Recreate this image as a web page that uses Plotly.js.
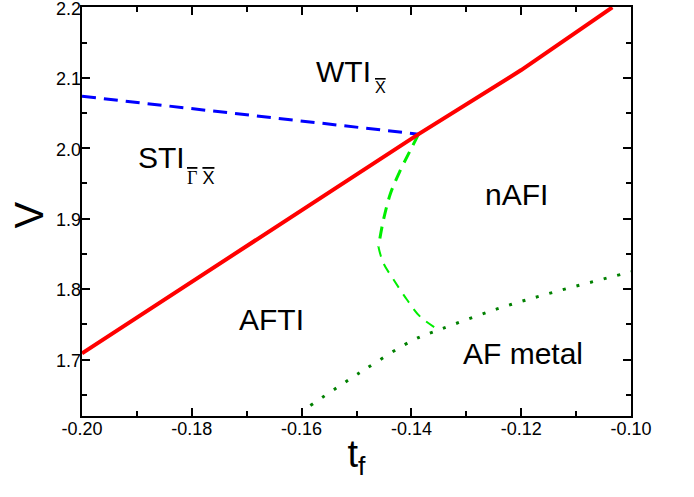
<!DOCTYPE html>
<html>
<head>
<meta charset="utf-8">
<script src="https://cdn.plot.ly/plotly-3.0.1.min.js"></script>
<style>
  html, body { margin: 0; padding: 0; background: #fff; }
  #plot { width: 694px; height: 497px; }
</style>
</head>
<body>
<div id="plot"></div>
<script>
// Phase boundaries in the (t_f, V) plane
const redX = [-0.2, -0.1387, -0.12, -0.1034];
const redY = [1.709, 2.020, 2.111, 2.2];

const blueX = [-0.2, -0.18, -0.1387];
const blueY = [2.0738, 2.056, 2.020];

const greenUpperX = [-0.1387, -0.1402, -0.142, -0.1438, -0.1451, -0.146];
const greenUpperY = [2.020, 1.997, 1.969, 1.936, 1.898, 1.860];
const greenLowerX = [-0.146, -0.1451, -0.1432, -0.1408, -0.1384, -0.135];
const greenLowerY = [1.860, 1.837, 1.813, 1.785, 1.761, 1.742];

const metalX = [-0.1584, -0.1493, -0.1396, -0.1347, -0.1244, -0.1135, -0.1004, -0.1];
const metalY = [1.635, 1.682, 1.728, 1.743, 1.772, 1.797, 1.824, 1.825];

// Tick labels (hyphen minus, fixed decimals)
const xTickVals = [-0.20, -0.18, -0.16, -0.14, -0.12, -0.10];
const xTickText = ['-0.20', '-0.18', '-0.16', '-0.14', '-0.12', '-0.10'];
const yTickVals = [1.7, 1.8, 1.9, 2.0, 2.1, 2.2];
const yTickText = ['1.7', '1.8', '1.9', '2.0', '2.1', '2.2'];

const X_RANGE = [-0.2, -0.1];
const Y_RANGE = [1.62, 2.2005];

const FONT = 'Arial, "Liberation Sans", sans-serif';

const traces = [
  { x: blueX, y: blueY, mode: 'lines', line: { color: '#0000ff', width: 3, dash: '14px,8px' }, hoverinfo: 'skip' },
  { x: greenUpperX, y: greenUpperY, mode: 'lines', line: { color: '#00ee00', width: 3, dash: '12px,8px', shape: 'spline' }, hoverinfo: 'skip' },
  { x: greenLowerX, y: greenLowerY, mode: 'lines', line: { color: '#00ee00', width: 2, dash: '10px,8px', shape: 'spline' }, hoverinfo: 'skip' },
  { x: metalX, y: metalY, mode: 'lines', line: { color: '#008000', width: 3, dash: '3px,11px', shape: 'spline' }, hoverinfo: 'skip' },
  { x: redX, y: redY, mode: 'lines', line: { color: '#ff0000', width: 4 }, hoverinfo: 'skip' },
  // empty trace carrying the label axes
  { x: [], y: [], xaxis: 'x2', yaxis: 'y2', mode: 'lines', hoverinfo: 'skip' }
];

const ov = s => '<span style="text-decoration:overline">' + s + '</span>';

function label(x, y, text, size) {
  return { x: x, y: y, xref: 'x', yref: 'y', text: text, showarrow: false,
           xanchor: 'left', yanchor: 'middle', borderpad: 0,
           font: { family: FONT, size: size, color: '#000' } };
}

const annotations = [
  label(-0.1575, 2.1087, 'WTI', 30),
  label(-0.1468, 2.086, ov('X'), 16),
  label(-0.1900, 1.9862, 'STI', 30),
  label(-0.1811, 1.958, '<span style="font-family:\'Liberation Serif\',serif">' + ov('Γ') + '</span> ' + ov('X'), 18),
  label(-0.1268, 1.9338, 'nAFI', 30),
  label(-0.1715, 1.7564, 'AFTI', 30),
  label(-0.1308, 1.7082, 'AF metal', 30),
  { x: -0.0965, y: 0.49, xref: 'paper', yref: 'paper', text: 'V', textangle: -90,
    showarrow: false, xanchor: 'center', yanchor: 'middle', borderpad: 0,
    font: { family: FONT, size: 40, color: '#000' } }
];

// Frame axes: box, major and minor inward ticks on all four sides
const frame = { showline: true, linewidth: 2, linecolor: '#000', mirror: 'ticks',
                showgrid: false, zeroline: false, showticklabels: false,
                ticks: 'inside', ticklen: 8, tickwidth: 2, tickcolor: '#000' };

// Label axes: text only
const labels = { showline: false, showgrid: false, zeroline: false, ticks: '',
                 ticklabeloverflow: 'allow', tickfont: { family: FONT, size: 18, color: '#000' } };

const layout = {
  width: 694, height: 497,
  margin: { l: 82, r: 63, t: 7, b: 81 },
  paper_bgcolor: '#fff', plot_bgcolor: '#fff',
  showlegend: false,
  font: { family: FONT, color: '#000' },
  xaxis: Object.assign({}, frame, {
    range: X_RANGE, tickmode: 'linear', tick0: -0.2, dtick: 0.02,
    minor: { dtick: 0.01, ticks: 'inside', ticklen: 5, tickwidth: 2, tickcolor: '#000' }
  }),
  yaxis: Object.assign({}, frame, {
    range: Y_RANGE, tickmode: 'linear', tick0: 1.7, dtick: 0.1,
    minor: { dtick: 0.05, ticks: 'inside', ticklen: 5, tickwidth: 2, tickcolor: '#000' }
  }),
  xaxis2: Object.assign({}, labels, {
    overlaying: 'x', side: 'bottom', anchor: 'y2', range: X_RANGE,
    tickmode: 'array', tickvals: xTickVals, ticktext: xTickText,
    title: { text: 't<sub>f</sub>', font: { family: FONT, size: 38, color: '#000' }, standoff: 2 }
  }),
  yaxis2: Object.assign({}, labels, {
    overlaying: 'y', side: 'left', anchor: 'x2', range: Y_RANGE,
    tickmode: 'array', tickvals: yTickVals, ticktext: yTickText, ticklabelshift: 1
  }),
  annotations: annotations
};

Plotly.newPlot('plot', traces, layout, { displayModeBar: false });
</script>
</body>
</html>
